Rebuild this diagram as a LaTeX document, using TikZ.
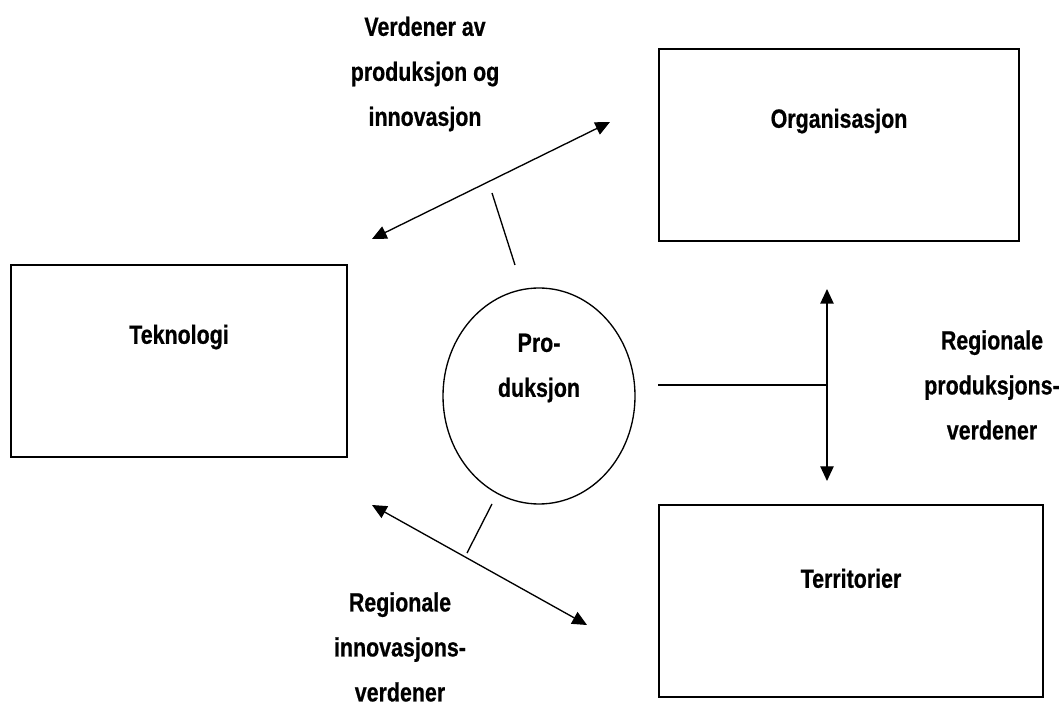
\documentclass[tikz,border=0pt]{standalone}
\usepackage{fontspec}
\setmainfont{Liberation Sans}[FakeStretch=0.81, BoldFeatures={FakeBold=0.6}]
\usepackage{tikz}
\usetikzlibrary{positioning,shapes.geometric,arrows.meta}

\begin{document}
\begin{tikzpicture}[
x=0.75pt, y=-0.75pt,
font=\fontsize{19.8pt}{33.75pt}\selectfont\bfseries,
boxnode/.style={rectangle, draw, line width=1.3pt, inner sep=0pt, minimum height=144pt},
ovalnode/.style={ellipse, draw, line width=1pt, inner sep=0pt, minimum width=144pt, minimum height=162pt},
textnode/.style={align=center, inner sep=0pt},
link/.style={line width=1pt},
twoway/.style={link, {Triangle[length=11pt,width=10pt]}-{Triangle[length=11pt,width=10pt]}},
]
\useasboundingbox (0,0) rectangle (1064,705);

%Nodes
\node[boxnode, minimum width=270pt, label={[yshift=18pt]center:Organisasjon}] (organisasjon) at (839,145) {};
\node[boxnode, minimum width=252pt, label={[yshift=18pt]center:Teknologi}]    (teknologi)    at (179,361) {};
\node[boxnode, minimum width=288pt, label={[yshift=17pt]center:Territorier}]  (territorier)  at (851,601) {};
\node[ovalnode] (produksjon) at (539,396) {};
\node[textnode] (produksjontext) at (539,368) {Pro-\\duksjon};

\node[textnode] (verdenertext)    at (425,74)  {Verdener av\\produksjon og\\innovasjon};
\node[textnode] (produksjonstext) at (992,385) {Regionale\\produksjons-\\verdener};
\node[textnode] (innovasjonstext) at (400,647) {Regionale\\innovasjons-\\verdener};

%Points
\coordinate (topleft)   at (372,239);
\coordinate (topright)  at (610,122);
\coordinate (toptickA)  at (492,193);
\coordinate (toptickB)  at (515,265);
\coordinate (rightup)   at (827,289);
\coordinate (rightdown) at (827,481);
\coordinate (rightmid)  at (827,385);
\coordinate (rightstub) at (658,385);
\coordinate (lowleft)   at (372,505);
\coordinate (lowright)  at (587,625);
\coordinate (lowtickA)  at (492,504);
\coordinate (lowtickB)  at (467,553);

%Lines
\draw[twoway] (topleft) -- (topright);
\draw[link] (toptickA) -- (toptickB);
\draw[twoway] (rightup) -- (rightdown);
\draw[link] (rightstub) -- (rightmid);
\draw[twoway] (lowleft) -- (lowright);
\draw[link] (lowtickA) -- (lowtickB);

\end{tikzpicture}
\end{document}
